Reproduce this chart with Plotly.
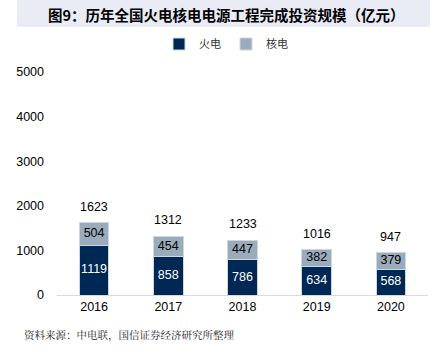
import plotly.graph_objects as go

years = ["2016", "2017", "2018", "2019", "2020"]
thermal = [1119, 858, 786, 634, 568]
nuclear = [504, 454, 447, 382, 379]
totals = [1623, 1312, 1233, 1016, 947]
y_ticks = [0, 1000, 2000, 3000, 4000, 5000]

title_text = "图9：历年全国火电核电电源工程完成投资规模（亿元）"
source_text = "资料来源：中电联，国信证券经济研究所整理"

W, H = 448, 353
L, R, T, B = 57, 20, 72, 58
pw, ph = W - L - R, H - T - B

def px(x):
    return (x - L) / pw

def py(y):
    return (H - B - y) / ph

num_font = "Liberation Sans, Arial, sans-serif"
cjk = "Noto Sans CJK SC, sans-serif"

fig = go.Figure()
fig.add_trace(go.Bar(
    x=years, y=thermal, name="火电",
    marker=dict(color="#002855", line=dict(color="#d0d6de", width=1)),
    width=0.4, hoverinfo="y",
))
fig.add_trace(go.Bar(
    x=years, y=nuclear, name="核电",
    marker=dict(color="#9aabbb", line=dict(color="#d0d6de", width=1)),
    width=0.4, hoverinfo="y",
))
# inside labels
fig.add_trace(go.Scatter(
    x=years, y=[v / 2 for v in thermal], mode="text", text=[str(v) for v in thermal],
    textposition="middle center", showlegend=False, hoverinfo="skip",
    textfont=dict(color="white", size=12.5, family=num_font),
))
fig.add_trace(go.Scatter(
    x=years, y=[a + b / 2 for a, b in zip(thermal, nuclear)], mode="text",
    text=[str(v) for v in nuclear],
    textposition="middle center", showlegend=False, hoverinfo="skip",
    textfont=dict(color="black", size=12.5, family=num_font),
))

annotations = [
    dict(x=i, y=t, xref="x", yref="y", text=str(t), showarrow=False,
         yanchor="bottom", yshift=7,
         font=dict(color="black", size=12.5, family=num_font))
    for i, t in enumerate(totals)
]
annotations += [
    dict(text="<b>" + title_text + "</b>", xref="paper", yref="paper",
         x=px(226), y=py(15), xanchor="center", yanchor="middle", showarrow=False,
         font=dict(family=cjk, size=14.5, color="black")),
    dict(text=source_text, xref="paper", yref="paper",
         x=px(22), y=py(334), xanchor="left", yanchor="middle", showarrow=False,
         font=dict(family="Noto Serif CJK SC, " + cjk, size=10.5, color="#222222")),
]

fig.update_layout(
    width=W, height=H,
    margin=dict(l=L, r=R, t=T, b=B, pad=0),
    barmode="stack",
    plot_bgcolor="white", paper_bgcolor="white",
    showlegend=True,
    legend=dict(orientation="h", x=px(226), xanchor="center", y=py(44), yanchor="middle",
                font=dict(family=cjk, size=11, color="#333333"),
                itemwidth=30, traceorder="normal", tracegroupgap=0),
    xaxis=dict(type="category", showline=True, linecolor="#d9d9d9", linewidth=1, ticks="",
               tickfont=dict(family=num_font, size=12.5, color="black"),
               showgrid=False, range=[-0.5, 4.5]),
    yaxis=dict(range=[0, 5000], tickvals=y_ticks, showgrid=False, zeroline=False,
               showline=False, ticks="", ticklabelstandoff=12,
               tickfont=dict(family=num_font, size=12.5, color="black")),
    shapes=[dict(type="rect", xref="paper", yref="paper",
                 x0=px(17), x1=px(430), y0=py(27), y1=py(0),
                 fillcolor="#e9ebf5", line=dict(width=0), layer="below")],
    annotations=annotations,
)

fig.write_html("out.html")
